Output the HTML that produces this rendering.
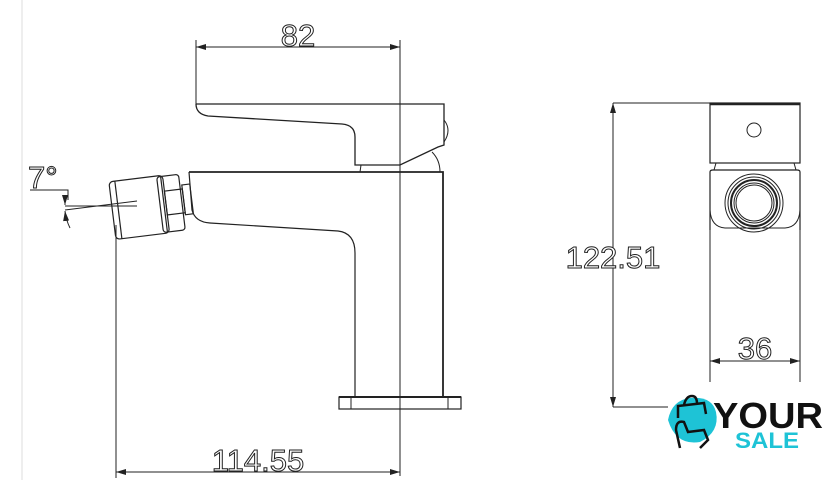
<!DOCTYPE html>
<html><head><meta charset="utf-8"><style>
html,body{margin:0;padding:0;background:#fff;width:838px;height:502px;overflow:hidden}
svg{display:block}
.t{font-family:"Liberation Sans",sans-serif;font-size:31px;fill:#fff;stroke:#222;stroke-width:1}
</style></head><body>
<svg width="838" height="502" viewBox="0 0 838 502" xmlns="http://www.w3.org/2000/svg">
<defs><marker id="a" viewBox="0 0 10 6" refX="10" refY="3" markerWidth="10" markerHeight="6" orient="auto-start-reverse"><path d="M0,0L10,3L0,6z" fill="#222"/></marker></defs>
<g fill="none" stroke="#222" stroke-width="1">
<line x1="22" y1="0" x2="22" y2="480" stroke="#ddd"/>
<!-- 82 dim -->
<line x1="196" y1="47" x2="400" y2="47" marker-start="url(#a)" marker-end="url(#a)"/>
<line x1="196" y1="40" x2="196" y2="104"/>
<line x1="400" y1="40" x2="400" y2="476"/>
<!-- handle -->
<path d="M196,104 L444,104 L444,145 L438,147 L400,165 L355,165 L355,137 Q355,125 342,124 L208,116 Q196,114 196,104" stroke-width="1.3"/>
<path d="M444,120 Q452,130 444,142"/>
<path d="M432,152 Q440,160 440,172"/>
<path d="M361,165 L360,172"/>
<!-- body -->
<path d="M189,172 L443,172 L443,397" stroke-width="1.8"/>
<path d="M189,172 L192,210 Q195,222 210,223 L338,231 Q355,233 355,253 L355,397" stroke-width="1.2"/>
<rect x="339" y="397" width="122" height="12" stroke-width="1.2"/>
<line x1="339" y1="397" x2="461" y2="397" stroke-width="2"/>
<line x1="351" y1="397" x2="351" y2="409"/><line x1="448" y1="397" x2="448" y2="409"/>
<!-- nozzle -->
<g transform="rotate(-7 150 205)" stroke-width="1.2">
<rect x="112" y="177" width="54" height="58" rx="4"/>
<line x1="118" y1="177" x2="118" y2="235"/>
<rect x="160" y="178" width="22" height="56" rx="3"/>
<line x1="164" y1="178" x2="164" y2="234"/>
<rect x="166" y="193" width="18" height="24"/>
<rect x="184" y="189" width="8" height="30"/>
</g>
<line x1="65" y1="206" x2="137" y2="206"/>
<line x1="65" y1="210" x2="137" y2="201"/>
<path d="M30,190 L68,190 L68,200" />
<path d="M65,196 L65,205" marker-end="url(#a)"/>
<path d="M65,211 Q66,220 70,228" marker-start="url(#a)"/>
<!-- 114.55 -->
<line x1="116" y1="225" x2="116" y2="478"/>
<line x1="116" y1="472" x2="400" y2="472" marker-start="url(#a)" marker-end="url(#a)"/>
<!-- right view -->
<line x1="613" y1="103" x2="613" y2="407" marker-start="url(#a)" marker-end="url(#a)"/>
<line x1="613" y1="103" x2="710" y2="103"/>
<line x1="613" y1="407" x2="668" y2="407"/>
<rect x="710" y="103" width="90" height="60" stroke-width="1.2"/>
<line x1="710" y1="104" x2="800" y2="104" stroke-width="2.5"/>
<circle cx="754" cy="130" r="7"/>
<path d="M710,230 L710,172 Q710,170 713,170 L797,170 Q800,170 800,172 L800,230" stroke-width="1.2"/>
<path d="M716,163 L714,170 M794,163 L796,170"/>
<path d="M710,210 Q711,227 725,228 L785,228 Q799,227 800,210"/>
<circle cx="754" cy="203" r="29"/><circle cx="754" cy="203" r="26"/>
<circle cx="754" cy="203" r="23" stroke-width="2"/><circle cx="754" cy="203" r="20"/><circle cx="754" cy="203" r="18"/>
<line x1="710" y1="230" x2="710" y2="382"/><line x1="800" y1="230" x2="800" y2="382"/>
<line x1="710" y1="361" x2="800" y2="361" marker-start="url(#a)" marker-end="url(#a)"/>
</g>
<text class="t" x="298" y="46" text-anchor="middle">82</text>
<text class="t" x="258" y="471" text-anchor="middle">114.55</text>
<text class="t" x="28" y="188">7°</text>
<text class="t" x="613" y="268" text-anchor="middle">122.51</text>
<text class="t" x="755" y="359" text-anchor="middle">36</text>
<!-- logo -->
<path d="M668,420 Q672,400 690,398 Q712,396 716,412 Q720,432 700,442 Q676,446 668,420z" fill="#1ec3d6"/>
<path d="M678,418 L678,406 L704,403 L706,414 M684,405 Q686,396 692,396 Q697,396 697,404" fill="none" stroke="#111" stroke-width="2.5"/>
<path d="M680,448 L676,430 Q676,420 684,422 L688,432 L704,430 L708,440 L700,448" fill="none" stroke="#111" stroke-width="2.5"/>
<text x="713" y="428" font-family="Liberation Sans,sans-serif" font-weight="bold" font-size="36" fill="#111" textLength="110" lengthAdjust="spacingAndGlyphs">YOUR</text>
<text x="735" y="448" font-family="Liberation Sans,sans-serif" font-weight="bold" font-size="22" fill="#1ec3d6" textLength="64" lengthAdjust="spacingAndGlyphs">SALE</text>
</svg>
</body></html>
